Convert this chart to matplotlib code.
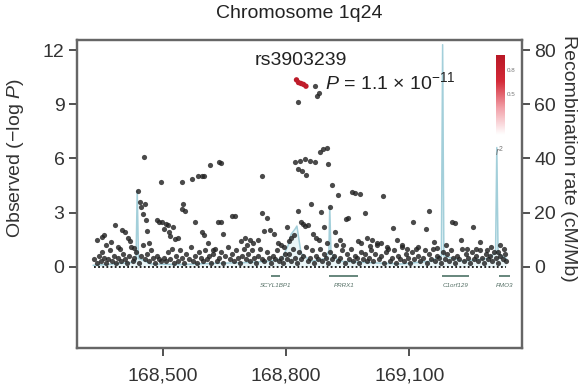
import numpy as np
import matplotlib
matplotlib.use('Agg')
import matplotlib.pyplot as plt
from matplotlib.colors import LinearSegmentedColormap
from matplotlib.ticker import FuncFormatter

plt.rcParams['font.family'] = 'Liberation Sans'
plt.rcParams['mathtext.fontset'] = 'custom'
plt.rcParams['mathtext.rm'] = 'Liberation Sans'
plt.rcParams['mathtext.it'] = 'Liberation Sans:italic'

# SNP positions (kb) and -log10 P, grey markers
snp_pos = [
    # low band, left part
    168332, 168338, 168343, 168348, 168352, 168357, 168361, 168366, 168371, 168375,
    168380, 168385, 168389, 168394, 168398, 168403, 168408, 168412, 168417, 168421,
    168426, 168430, 168435, 168441, 168446, 168450, 168455, 168460, 168465, 168470,
    168475, 168480, 168485, 168490, 168496,
    # mid, left part
    168340, 168350, 168356, 168362, 168372, 168383, 168390, 168400, 168407, 168415,
    168420, 168428, 168439, 168444, 168447, 168451, 168456, 168458, 168462, 168466,
    168454, 168495, 168485, 168490, 168497, 168503, 168508, 168512, 168515, 168518,
    168524, 168530, 168537, 168545, 168549, 168553, 168546, 168570, 168585, 168595,
    168600, 168615, 168636, 168642, 168578, 168595, 168600, 168634, 168640, 168668,
    168645, 168610, 168622,
    # low band, middle part
    168502, 168507, 168512, 168517, 168522, 168527, 168532, 168537, 168542, 168547,
    168552, 168557, 168562, 168567, 168572, 168577, 168582, 168587, 168592, 168597,
    168602, 168607, 168612, 168617, 168622, 168627, 168632, 168637, 168642, 168647,
    168652, 168657, 168662, 168667, 168672, 168677, 168682, 168687, 168692, 168697,
    168702, 168707, 168712, 168717, 168722, 168727, 168732, 168737, 168742, 168747,
    168752, 168757, 168762, 168767, 168772, 168777, 168782, 168787, 168792, 168797,
    # mid, middle part
    168676, 168690, 168700, 168705, 168712, 168720, 168730, 168741, 168741, 168745,
    168752, 168760, 168770, 168780, 168788, 168795,
    # peak region
    168828, 168870, 168876, 168880,
    168821, 168833, 168845, 168858, 168870, 168882, 168889, 168899, 168828, 168838,
    168848, 168901, 168911, 168926, 168967, 168979, 168991,
    168802, 168806, 168812, 168820, 168829, 168835, 168840, 168846, 168852, 168860,
    168866, 168872, 168880, 168885, 168892, 168900, 168906, 168918, 168932, 168938,
    168945, 168951, 168960, 168975, 168982, 168996,
    # low band, right-middle part
    168802, 168807, 168812, 168817, 168822, 168827, 168832, 168837, 168842, 168847,
    168852, 168857, 168862, 168867, 168872, 168877, 168882, 168887, 168892, 168897,
    168902, 168907, 168912, 168917, 168922, 168927, 168932, 168937, 168942, 168947,
    168952, 168957, 168962, 168967, 168972, 168977, 168982, 168987, 168992, 168997,
    # right part, mid
    169035, 169059, 169030, 169045, 169070, 169082, 169095, 169108, 169120, 169140,
    169147, 169160, 169168, 169190, 169205, 169212, 169225, 169240, 169254, 169262,
    169273, 169290, 169300, 169315, 169322, 169330, 169010, 169020, 169005,
    # low band, right part
    169002, 169007, 169012, 169017, 169022, 169027, 169032, 169037, 169042, 169047,
    169052, 169057, 169062, 169067, 169072, 169077, 169082, 169087, 169092, 169097,
    169102, 169107, 169112, 169117, 169122, 169127, 169132, 169137, 169142, 169147,
    169152, 169157, 169162, 169167, 169172, 169177, 169182, 169187, 169192, 169197,
    169202, 169207, 169212, 169217, 169222, 169227, 169232, 169237, 169242, 169247,
    169252, 169257, 169262, 169267, 169272, 169277, 169282, 169287, 169292, 169297,
    169302, 169307, 169312, 169317, 169322, 169327, 169332, 169336,
]
snp_logp = [
    0.4, 0.2, 0.6, 0.3, 0.8, 0.5, 0.2, 0.4, 0.9, 0.3,
    0.6, 0.2, 0.5, 1.0, 0.3, 0.7, 0.4, 0.2, 0.6, 1.1,
    0.3, 0.5, 0.8, 0.2, 0.6, 1.2, 0.4, 0.7, 0.3, 0.9,
    0.5, 0.2, 0.6, 0.4, 0.3,
    1.5, 1.65, 1.75, 1.2, 1.35, 2.3, 1.1, 2.05, 1.9, 1.6,
    1.4, 1.05, 4.2, 3.6, 3.3, 2.9, 3.45, 2.6, 2.0, 1.3,
    6.05, 4.7, 2.6, 2.5, 2.45, 2.1, 2.35, 2.3, 1.9, 1.7,
    2.2, 1.55, 1.6, 3.2, 3.45, 3.1, 4.7, 4.85, 5.0, 5.05,
    5.0, 5.65, 5.8, 5.75, 2.5, 1.9, 1.75, 2.5, 2.45, 2.8,
    1.8, 1.3, 0.9,
    0.5, 0.3, 0.8, 0.4, 1.0, 0.2, 0.6, 0.3, 0.9, 0.5,
    0.2, 0.7, 0.4, 1.1, 0.3, 0.6, 0.2, 0.8, 0.5, 0.3,
    0.9, 0.4, 0.6, 0.2, 0.7, 1.0, 0.3, 0.5, 0.8, 0.2,
    0.6, 1.1, 0.4, 0.7, 0.3, 0.9, 0.5, 0.2, 0.6, 1.0,
    0.4, 0.7, 0.3, 0.9, 0.5, 0.2, 0.6, 1.0, 0.4, 0.3,
    0.8, 0.5, 0.2, 0.6, 0.4, 0.9, 0.3, 0.5, 0.2, 0.7,
    2.8, 1.4, 1.6, 1.2, 1.5, 1.3, 1.45, 5.05, 3.0, 1.95,
    2.7, 2.05, 1.8, 1.3, 1.2, 1.1,
    9.15, 10.0, 9.45, 9.6,
    5.78, 5.83, 5.94, 5.83, 5.78, 6.33, 6.5, 6.6, 5.4, 5.3,
    5.1, 5.67, 4.55, 3.95, 4.1, 4.05, 3.0,
    2.2, 1.4, 1.6, 1.75, 3.1, 2.45, 2.35, 2.25, 2.3, 3.45,
    1.8, 1.6, 1.5, 3.05, 2.2, 1.3, 3.3, 1.9, 1.5, 1.2,
    2.65, 2.7, 4.15, 1.4, 1.3, 1.6,
    0.4, 0.7, 0.3, 1.0, 0.5, 0.2, 0.8, 0.4, 0.6, 1.1,
    0.3, 0.5, 0.9, 0.2, 0.6, 0.4, 1.0, 0.3, 0.7, 0.5,
    0.2, 0.8, 0.4, 0.6, 1.2, 0.3, 0.5, 0.9, 0.2, 0.7,
    0.4, 1.0, 0.3, 0.6, 0.5, 0.2, 0.8, 0.4, 0.7, 0.3,
    3.9, 2.15, 1.3, 1.1, 1.45, 1.2, 1.0, 2.45, 1.1, 2.1,
    3.1, 1.35, 1.05, 1.2, 2.5, 2.4, 1.5, 1.0, 2.2, 1.0,
    1.35, 0.9, 1.1, 0.8, 1.2, 1.0, 1.5, 1.3, 1.15,
    0.5, 0.9, 0.3, 0.7, 1.2, 0.4, 0.6, 0.2, 0.8, 1.0,
    0.3, 0.5, 0.9, 0.2, 0.6, 0.4, 1.1, 0.3, 0.7, 0.5,
    0.2, 0.8, 0.4, 1.0, 0.6, 0.3, 0.5, 0.9, 0.2, 0.7,
    0.4, 1.0, 0.3, 0.6, 0.5, 0.2, 0.8, 0.4, 0.7, 0.3,
    0.9, 0.5, 0.2, 0.6, 0.4, 1.0, 0.3, 0.7, 0.5, 0.2,
    0.8, 0.4, 0.6, 0.3, 0.9, 0.5, 0.2, 0.7, 0.4, 0.6,
    0.3, 0.8, 0.5, 0.2, 0.6, 0.4, 0.7, 0.3,
]

# high-LD SNPs (red) near the lead signal
ld_pos = [168825, 168830, 168836, 168842, 168848]
ld_logp = [10.35, 10.2, 10.15, 10.1, 10.0]
ld_r2 = [0.95, 0.9, 0.92, 0.88, 0.9]

# recombination rate (cM/Mb)
rec_pos = [168330, 168380, 168420, 168434, 168437, 168440, 168450, 168470, 168540,
           168620, 168700, 168760, 168790, 168805, 168812, 168822, 168826, 168830,
           168836, 168860, 168895, 168904, 168906, 168909, 168930, 169000, 169080,
           169150, 169178, 169181, 169184, 169230, 169290, 169310, 169313, 169316,
           169336]
rec_rate = [0.5, 1.0, 1.5, 2.0, 28, 3.0, 2.5, 1.0, 0.8,
            1.2, 1.5, 2.0, 3.0, 8.0, 12, 14, 15, 11,
            5, 2, 3, 6, 22, 5, 2, 1.5, 1.0,
            2.0, 4, 82, 4, 2, 3, 5, 44, 5,
            3]

genes = ['SCYL1BP1', 'PRRX1', 'C1orf129', 'FMO3']
gene_start = [168764, 168905, 169180, 169318]
gene_end = [168784, 168975, 169245, 169345]

lead_snp = 'rs3903239'
lead_p_text = r'$P$ = 1.1 × 10$^{-11}$'

fig = plt.figure(figsize=(5.87, 3.9), dpi=100)
ax = fig.add_axes([0.131, 0.108, 0.758, 0.789])
ax2 = ax.twinx()
ax.set_zorder(ax2.get_zorder() + 1)
ax.patch.set_visible(False)

# recombination line
ax2.fill_between(rec_pos, rec_rate, 0, color='#d6eef3', alpha=0.5, lw=0)
ax2.plot(rec_pos, rec_rate, color='#a3cfda', lw=1.1)

# SNPs
ax.scatter(snp_pos, snp_logp, s=14, color='#222222', alpha=0.82, lw=0, zorder=3)
red_cmap = LinearSegmentedColormap.from_list('ld', ['#ffffff', '#f2a0a8', '#d42a38', '#b81826'])
ax.scatter(ld_pos, ld_logp, s=15, c=ld_r2, cmap=red_cmap, vmin=0, vmax=1, lw=0, zorder=4)

# dotted baseline along the SNP span
ax.hlines(0, min(snp_pos), max(snp_pos), colors='#111111', linestyles=(0, (1, 1.3)), lw=1.3, zorder=2)

# genes
for name, s, e in zip(genes, gene_start, gene_end):
    ax.hlines(-0.5, s, e, colors='#3d6658', lw=1.1)
    ax.text((s + e) / 2, -1.05, name, fontsize=4.5, style='italic', color='#557066',
            ha='center', va='center')

# annotations
ax.text(168836, 11.4, lead_snp, fontsize=14, color='#222222', ha='center', va='center')
ax.text(168894, 10.2, lead_p_text, fontsize=14, color='#222222', ha='left', va='center')

ax.set_xlim(168290, 169374)
ax.set_ylim(-4.5, 12.55)
ax2.set_ylim(-4.5 * 80 / 12, 12.55 * 80 / 12)
ax.set_yticks([0, 3, 6, 9, 12])
ax2.set_yticks([0, 20, 40, 60, 80])
ax.set_xticks([168500, 168800, 169100])
ax.xaxis.set_major_formatter(FuncFormatter(lambda v, p: f'{int(v):,}'))

for a in (ax, ax2):
    a.tick_params(labelsize=14, colors='#333333', length=6, width=1.2, pad=3)
    for sp in a.spines.values():
        sp.set_color('#666666')
        sp.set_linewidth(1.6)
ax.tick_params(axis='x', pad=8)

ax.set_title('Chromosome 1q24', fontsize=14, color='#222222', pad=16)
ax.set_ylabel(r'Observed (−log $P$)', fontsize=14, color='#333333')
ax.yaxis.set_label_coords(-0.115, 0.617)
ax2.set_ylabel('Recombination rate (cM/Mb)', fontsize=14, color='#333333', rotation=270)
ax2.yaxis.set_label_coords(1.125, 0.617)

# r2 colour bar
cax = ax.inset_axes([0.942, 0.692, 0.018, 0.26])
grad = np.linspace(0, 1, 100).reshape(-1, 1)
cax.imshow(grad, aspect='auto', cmap=red_cmap, origin='lower', extent=[0, 1, 0, 1])
cax.set_xticks([])
cax.set_yticks([])
for sp in cax.spines.values():
    sp.set_visible(False)
for v in [0.5, 0.8]:
    cax.text(1.3, v, f'{v}', fontsize=4.5, color='#777777', va='center', transform=cax.transAxes)
cax.text(0.4, -0.2, r'$r^2$', fontsize=7, color='#777777', ha='center', va='center',
         transform=cax.transAxes)

fig.savefig('out.png', dpi=100)
